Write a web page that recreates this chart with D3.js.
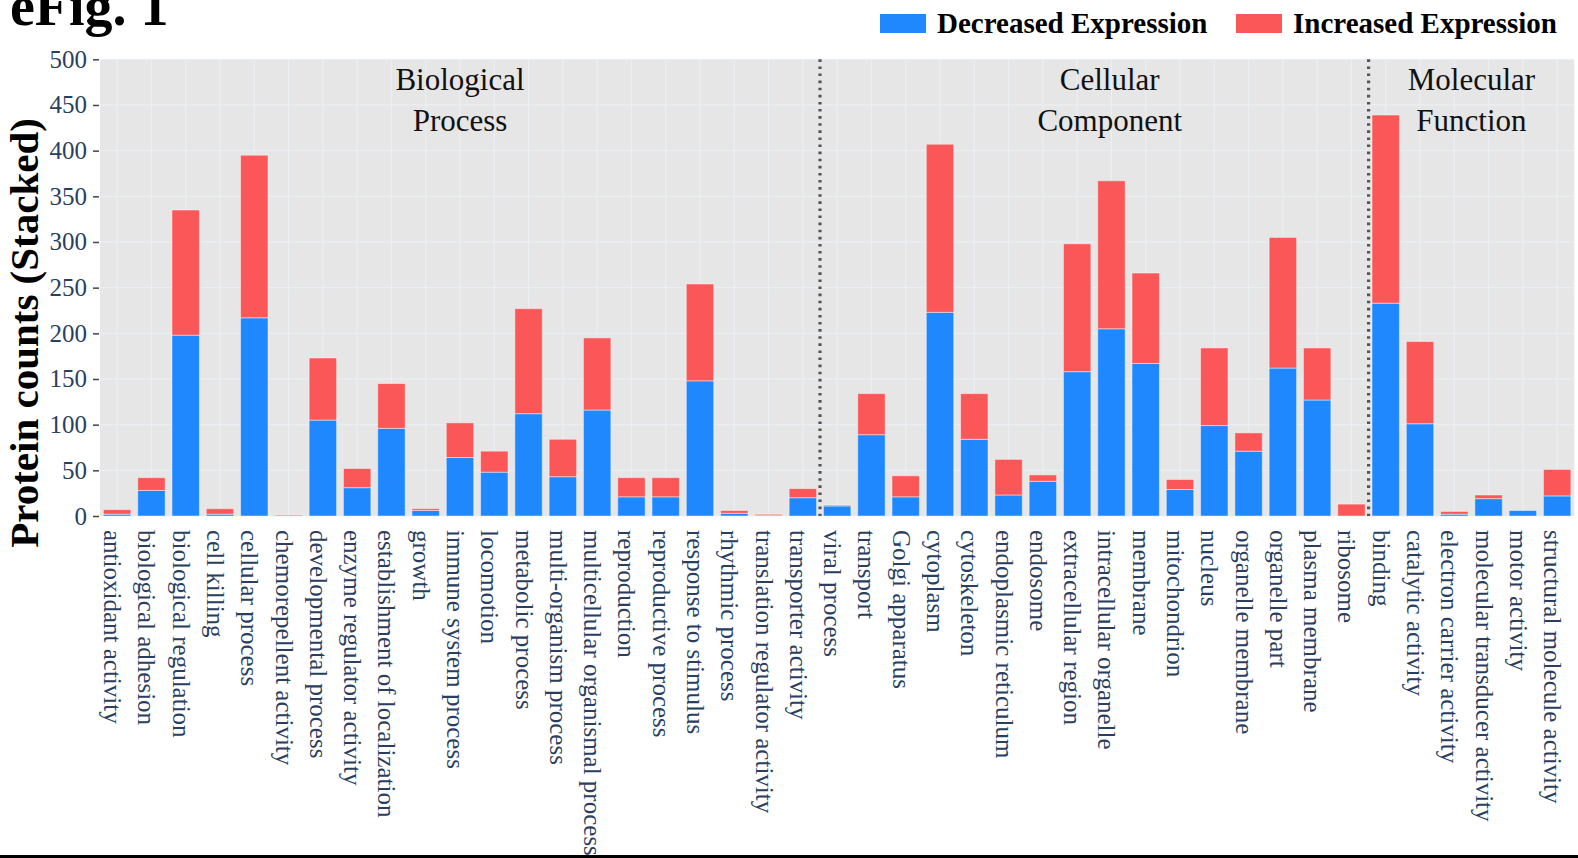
<!DOCTYPE html>
<html>
<head>
<meta charset="utf-8">
<script src="https://cdn.jsdelivr.net/npm/d3@7"></script>
<style>
  html, body { margin: 0; padding: 0; background: #fff; }
  svg { display: block; }
</style>
</head>
<body>
<svg id="chart" width="1578" height="858"></svg>
<script>
const categories = [
  "antioxidant activity","biological adhesion","biological regulation","cell killing","cellular process",
  "chemorepellent activity","developmental process","enzyme regulator activity","establishment of localization","growth",
  "immune system process","locomotion","metabolic process","multi-organism process","multicellular organismal process",
  "reproduction","reproductive process","response to stimulus","rhythmic process","translation regulator activity",
  "transporter activity",
  "viral process","transport","Golgi apparatus","cytoplasm","cytoskeleton","endoplasmic reticulum","endosome",
  "extracellular region","intracellular organelle","membrane","mitochondrion","nucleus","organelle membrane",
  "organelle part","plasma membrane","ribosome",
  "binding","catalytic activity","electron carrier activity","molecular transducer activity","motor activity",
  "structural molecule activity"
];
const decreased = [2,28,198,2,217,0,105,31,96,6,64,48,112,43,116,21,21,148,3,1,20,
                   11,89,21,223,84,23,38,158,205,167,29,99,71,162,127,0,
                   233,101,2,19,6,22];
const increased = [5,14,137,6,178,1,68,21,49,2,38,23,115,41,79,21,21,106,3,1,10,
                   1,45,23,184,50,39,7,140,162,99,11,85,20,143,57,13,
                   206,90,3,4,0,29];
const seriesNames = ["Decreased Expression","Increased Expression"];
const groupNames = [["Biological","Process"],["Cellular","Component"],["Molecular","Function"]];
const groupSizes = [21,16,6];
const groupLabelPos = [10.0, 28.95, 39.5];   // in category units
const yTicks = [0,50,100,150,200,250,300,350,400,450,500];
const yTitle = "Protein counts (Stacked)";
const figTitle = "eFig. 1";

const colors = ["#1f88fe","#fb5758"];
const serif = "'Liberation Serif','Times New Roman',Times,serif";
const tickColor = "#2a3f5f";

const svg = d3.select("#chart");
const L = 100, R = 1574.3, T = 59.3, B = 516;

const x = d3.scaleBand().domain(categories).range([L, R]).paddingInner(0.2).paddingOuter(0.1);
const y = d3.scaleLinear().domain([0, 500]).range([B, T]);

// background
svg.append("rect").attr("x", L).attr("y", T).attr("width", R - L).attr("height", B - T).attr("fill", "#e6e6e6");

// grid
const g = svg.append("g");
g.selectAll("line.vg").data(categories).join("line")
  .attr("x1", d => x(d) + x.bandwidth()/2).attr("x2", d => x(d) + x.bandwidth()/2)
  .attr("y1", T).attr("y2", B).attr("stroke", "#ebf0f8").attr("stroke-width", 1);
g.selectAll("line.hg").data(yTicks).join("line")
  .attr("x1", L).attr("x2", R).attr("y1", d => y(d)).attr("y2", d => y(d))
  .attr("stroke", "#ebf0f8").attr("stroke-width", 1);

// stacked bars
const rows = categories.map((c, i) => ({cat: c, dec: decreased[i], inc: increased[i]}));
const stack = d3.stack().keys(["dec","inc"])(rows);
svg.append("g").selectAll("g").data(stack).join("g")
  .attr("fill", (d, i) => colors[i])
  .selectAll("rect").data(d => d.filter(s => s[1] - s[0] > 0)).join("rect")
  .attr("x", d => x(d.data.cat)).attr("width", x.bandwidth())
  .attr("y", d => y(d[1])).attr("height", d => y(d[0]) - y(d[1]))
  .attr("stroke", "rgba(255,255,255,0.45)").attr("stroke-width", 1);

// separators
let cum = 0;
const sepIdx = [];
groupSizes.slice(0, -1).forEach(s => { cum += s; sepIdx.push(cum); });
svg.append("g").selectAll("line").data(sepIdx).join("line")
  .attr("x1", i => x(categories[i]) - x.step()*x.paddingInner()/2)
  .attr("x2", i => x(categories[i]) - x.step()*x.paddingInner()/2)
  .attr("y1", T).attr("y2", B)
  .attr("stroke", "#555").attr("stroke-width", 3.2).attr("stroke-dasharray", "2.6,4.5");

// group labels
const cx = v => L + x.step()*x.paddingOuter() + x.step()*(v + 0.5) - x.step()*x.paddingInner()/2 + x.step()*0.0;
groupNames.forEach((lines, gi) => {
  const t = svg.append("text").attr("font-family", serif).attr("font-size", 31)
    .attr("fill", "#111").attr("text-anchor", "middle");
  lines.forEach((ln, li) => {
    t.append("tspan").attr("x", L + x.step()*(groupLabelPos[gi] + 0.5)).attr("y", 90 + li*40.7).text(ln);
  });
});

// y axis
const yAxis = d3.axisLeft(y).tickValues(yTicks).tickSize(6).tickPadding(6);
const ya = svg.append("g").attr("transform", `translate(${L - 1},0)`).call(yAxis);
ya.select(".domain").remove();
ya.selectAll(".tick line").attr("stroke", "#444").attr("stroke-width", 1.5);
ya.selectAll(".tick text").attr("font-family", serif).attr("font-size", 25).attr("fill", tickColor);

// x labels
svg.append("g").selectAll("text").data(categories).join("text")
  .attr("font-family", serif).attr("font-size", 25).attr("fill", tickColor)
  .attr("text-anchor", "start")
  .attr("transform", d => `translate(${x(d) + x.bandwidth()/2},530) rotate(90)`)
  .attr("dy", 13)
  .text(d => d);

// y title
svg.append("text").attr("font-family", serif).attr("font-weight", "bold").attr("font-size", 41)
  .attr("fill", "#000").attr("text-anchor", "middle")
  .attr("transform", "translate(38,333) rotate(-90)").text(yTitle);

// figure title
svg.append("text").attr("font-family", serif).attr("font-weight", "bold").attr("font-size", 56)
  .attr("fill", "#000").attr("x", 10).attr("y", 25).text(figTitle);

// legend
const legendX = [880, 1236];
seriesNames.forEach((n, i) => {
  svg.append("rect").attr("x", legendX[i]).attr("y", 14).attr("width", 46).attr("height", 19)
    .attr("fill", colors[i]);
  svg.append("text").attr("font-family", serif).attr("font-weight", "bold").attr("font-size", 29)
    .attr("fill", "#000").attr("x", legendX[i] + 57).attr("y", 33).text(n);
});

// bottom border
svg.append("rect").attr("x", 0).attr("y", 855).attr("width", 1578).attr("height", 3).attr("fill", "#000");
</script>
</body>
</html>
